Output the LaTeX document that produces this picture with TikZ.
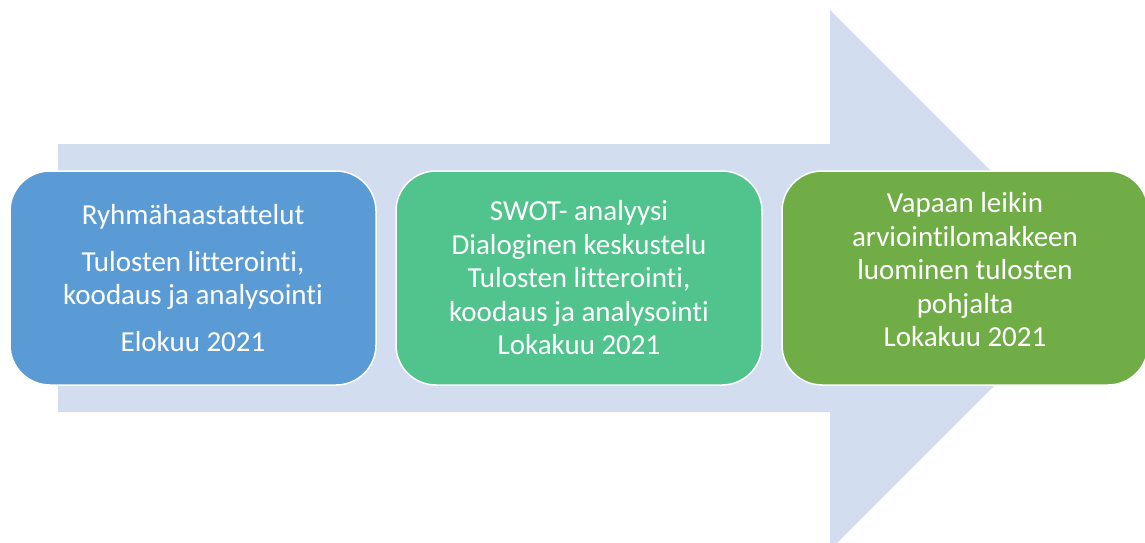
\documentclass[tikz,border=0pt]{standalone}
\usepackage{fontspec}
\setmainfont{Carlito}[Ligatures=NoCommon]
\definecolor{arrowc}{HTML}{D2DEEF}
\definecolor{boxblue}{HTML}{5B9BD5}
\definecolor{boxgreen}{HTML}{50C48C}
\definecolor{boxolive}{HTML}{70AD47}
\tikzset{
  stagefont/.style={align=center, text=white, font=\fontsize{29}{33.5}\selectfont},
  stagebox/.style={draw=white, line width=1.5pt, rounded corners=40pt,
    minimum width=366pt, minimum height=214pt, stagefont, inner sep=4pt}
}
\begin{document}
\begin{tikzpicture}[x=1pt,y=-1pt]
\useasboundingbox (0,0) rectangle (1145,542);
\fill[arrowc] (58,144) -- (830,144) -- (830,10) -- (1100,280) -- (830,550) -- (830,412) -- (58,412) -- cycle;
\node[stagebox, fill=boxblue] (b1) at (193,278) {Ryhmähaastattelut\\[13pt]Tulosten litterointi,\\koodaus ja analysointi\\[13pt]Elokuu 2021};
\node[stagebox, fill=boxgreen] (b2) at (579,278) {SWOT- analyysi\\Dialoginen keskustelu\\Tulosten litterointi,\\koodaus ja analysointi\\Lokakuu 2021};
\node[stagebox, fill=boxolive, label={[stagefont, yshift=8pt]center:{Vapaan leikin\\arviointilomakkeen\\luominen tulosten\\pohjalta\\Lokakuu 2021}}] (b3) at (965,278) {};
\end{tikzpicture}
\end{document}
